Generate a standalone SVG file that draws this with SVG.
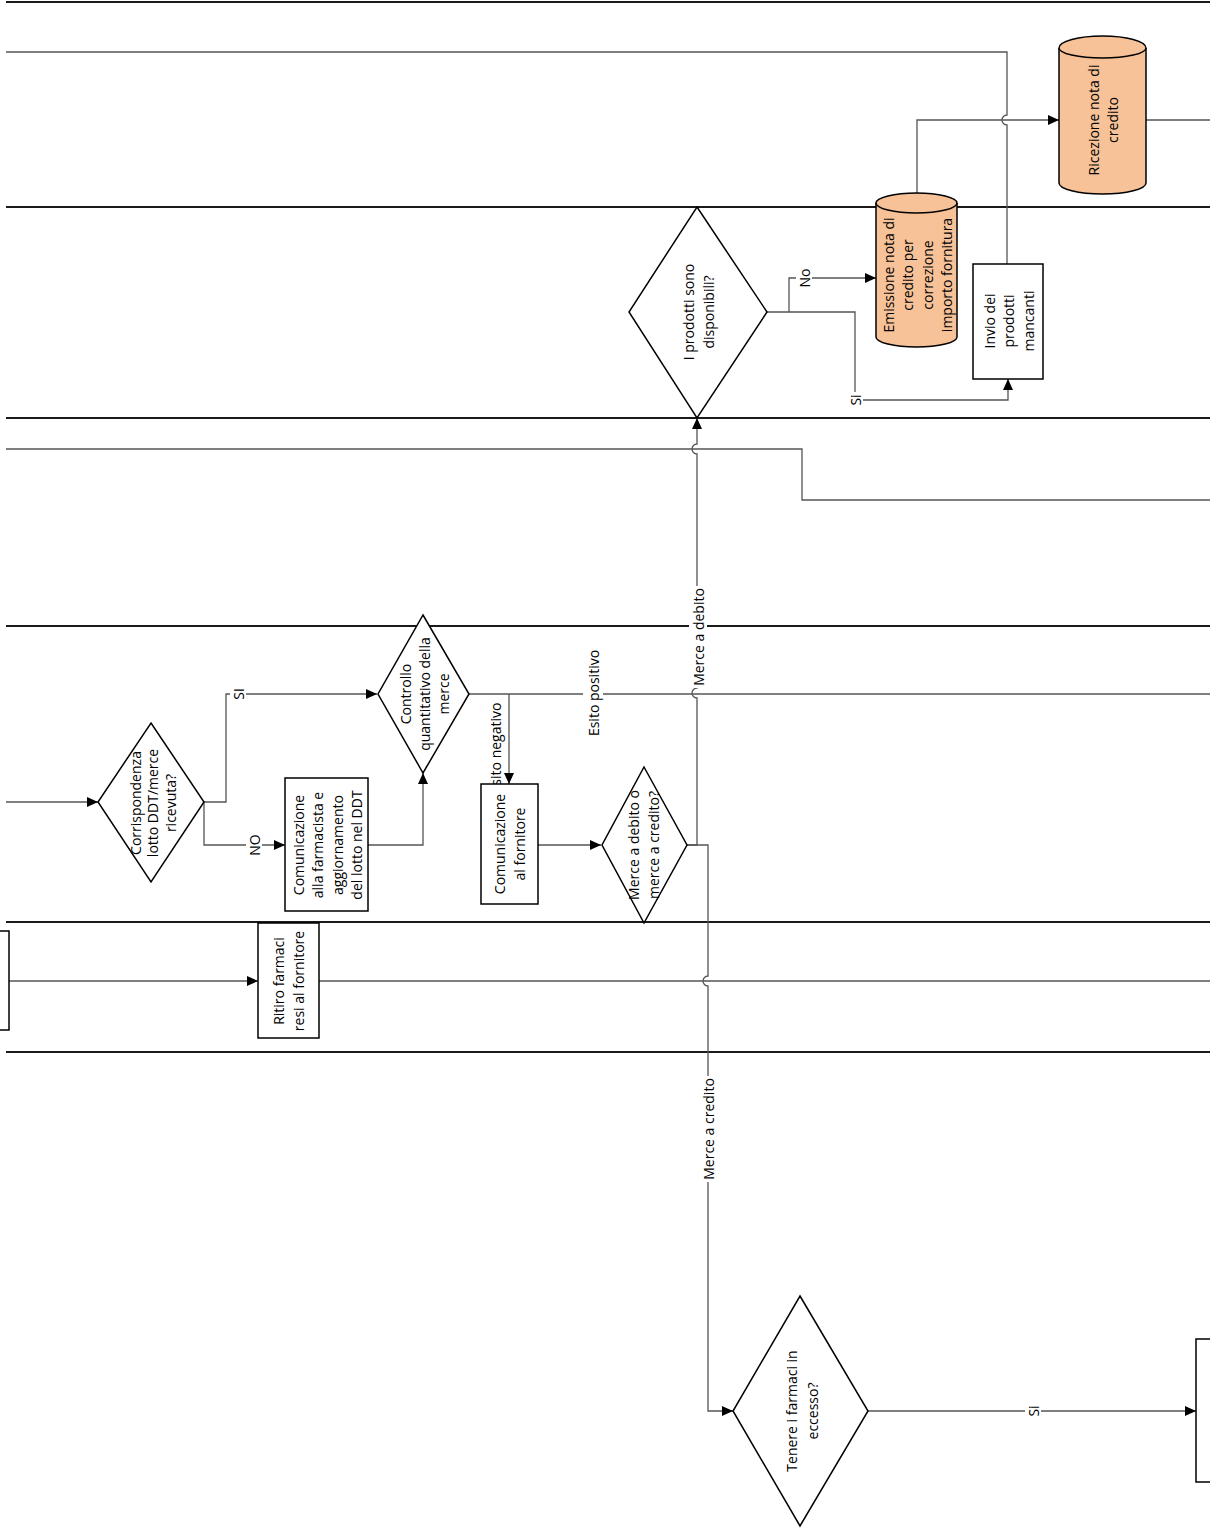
<svg xmlns="http://www.w3.org/2000/svg" width="1210" height="1528" viewBox="0 0 1210 1528">
<defs>
<marker id="arr" markerUnits="userSpaceOnUse" markerWidth="12" markerHeight="10" refX="11" refY="5" orient="auto">
<path d="M0,0 L11,5 L0,10 Z" fill="#000"/>
</marker>
<style>
.lane{stroke:#1a1a1a;stroke-width:2;fill:none}
.sh{fill:#fff;stroke:#000;stroke-width:1.5}
.cyl{fill:#f7c298;stroke:#000;stroke-width:1.5}
.cn{fill:none;stroke:#555;stroke-width:1.3}
.ca{fill:none;stroke:#555;stroke-width:1.3;marker-end:url(#arr)}
.t{font-family:"Open Sans","Noto Sans",sans-serif;font-size:14px;fill:#000;text-anchor:middle;dominant-baseline:central}
.bg{fill:#fff;stroke:none}
</style>
</defs>
<rect width="1210" height="1528" fill="#fff"/>
<g id="lanes">
<line class="lane" x1="6" y1="2" x2="1210" y2="2"/>
<line class="lane" x1="6" y1="207" x2="1210" y2="207"/>
<line class="lane" x1="6" y1="418" x2="1210" y2="418"/>
<line class="lane" x1="6" y1="626" x2="1210" y2="626"/>
<line class="lane" x1="6" y1="922" x2="1210" y2="922"/>
<line class="lane" x1="6" y1="1052" x2="1210" y2="1052"/>
</g>
<g id="connectors">
<path class="cn" d="M6,52 H1007 V115 A5,5 0 0 0 1007,125 V264"/>
<path class="ca" d="M917,193 V120 H1059"/>
<path class="cn" d="M1146,120 H1210"/>
<path class="ca" d="M767,312 H789 V278 H876"/>
<path class="ca" d="M789,312 H855 V400 H1008 V379"/>
<path class="cn" d="M6,449 H802 V500 H1210"/>
<path class="cn" d="M469,694 H1210"/>
<path class="ca" d="M687,845 H697 V698 A5,5 0 0 1 697,688 V454 A5,5 0 0 1 697,444 V418"/>
<path class="ca" d="M687,845 H708 V976 A5,5 0 0 0 708,986 V1411 H733"/>
<path class="ca" d="M6,802 H98"/>
<path class="ca" d="M204,802 H226 V694 H377"/>
<path class="ca" d="M204,802 V845 H285"/>
<path class="ca" d="M368,845 H423 V773"/>
<path class="ca" d="M509,694 V784"/>
<path class="ca" d="M538,845 H601"/>
<path class="ca" d="M9,981 H258"/>
<path class="cn" d="M319,981 H1210"/>
<path class="ca" d="M868,1411 H1196"/>
<g id="edge-labels">
<rect class="bg" x="796" y="267" width="16" height="22"/>
<text class="t" transform="translate(804,278) rotate(-90)">No</text>
<rect class="bg" x="847" y="392" width="16" height="16"/>
<text class="t" transform="translate(855,400) rotate(-90)">Si</text>
<rect class="bg" x="230" y="686" width="16" height="16"/>
<text class="t" transform="translate(238,694) rotate(-90)">SI</text>
<rect class="bg" x="246" y="833" width="16" height="24"/>
<text class="t" transform="translate(254,845) rotate(-90)">NO</text>
<rect class="bg" x="583" y="646" width="20" height="94"/>
<text class="t" transform="translate(593,693) rotate(-90)">Esito positivo</text>
<text class="t" transform="translate(495,748) rotate(-90)">Esito negativo</text>
<rect class="bg" x="689" y="586" width="18" height="102"/>
<text class="t" transform="translate(698,637) rotate(-90)">Merce a debito</text>
<rect class="bg" x="699" y="1076" width="18" height="106"/>
<text class="t" transform="translate(708,1129) rotate(-90)">Merce a credito</text>
<rect class="bg" x="1025" y="1403" width="16" height="16"/>
<text class="t" transform="translate(1033,1411) rotate(-90)">Si</text>
</g>
</g>
<g id="n-ricezione">
<path class="cyl" d="M1059,48 A43.5,12 0 0 1 1146,48 V183 A43.5,11 0 0 1 1059,183 Z"/>
<path class="cyl" fill="none" d="M1059,48 A43.5,10 0 0 0 1146,48"/>
<text class="t" transform="translate(1102,120) rotate(-90)"><tspan x="0" y="-9.5">Ricezione nota di</tspan><tspan x="0" y="9.5">credito</tspan></text>
</g>
<g id="n-emissione">
<path class="cyl" d="M876,203 A40.5,10 0 0 1 957,203 V337 A40.5,10 0 0 1 876,337 Z"/>
<path class="cyl" d="M876,203 A40.5,10 0 0 0 957,203"/>
<text class="t" transform="translate(917,275) rotate(-90)"><tspan x="0" y="-29">Emissione nota di</tspan><tspan x="0" y="-9.7">credito per</tspan><tspan x="0" y="9.7">correzione</tspan><tspan x="0" y="29">importo fornitura</tspan></text>
</g>
<g id="n-invio">
<rect class="sh" x="973" y="264" width="70" height="115"/>
<text class="t" transform="translate(1008,321) rotate(-90)"><tspan x="0" y="-19.5">Invio dei</tspan><tspan x="0" y="0">prodotti</tspan><tspan x="0" y="19.5">mancanti</tspan></text>
</g>
<g id="n-disponibili">
<path class="sh" d="M697,207 L767,312 L697,418 L629,312 Z"/>
<text class="t" transform="translate(698,312) rotate(-90)"><tspan x="0" y="-10">I prodotti sono</tspan><tspan x="0" y="10">disponibili?</tspan></text>
</g>
<g id="n-corrispondenza">
<path class="sh" d="M151,723 L204,802 L151,882 L98,802 Z"/>
<text class="t" transform="translate(152,803) rotate(-90)"><tspan x="0" y="-17.5">Corrispondenza</tspan><tspan x="0" y="0">lotto DDT/merce</tspan><tspan x="0" y="17.5">ricevuta?</tspan></text>
</g>
<g id="n-comunicazione-farmacista">
<rect class="sh" x="285" y="778" width="83" height="133"/>
<text class="t" transform="translate(327,845) rotate(-90)"><tspan x="0" y="-29">Comunicazione</tspan><tspan x="0" y="-9.7">alla farmacista e</tspan><tspan x="0" y="9.7">aggiornamento</tspan><tspan x="0" y="29">del lotto nel DDT</tspan></text>
</g>
<g id="n-controllo">
<path class="sh" d="M423,615 L469,694 L423,773 L378,694 Z"/>
<text class="t" transform="translate(424,694) rotate(-90)"><tspan x="0" y="-19">Controllo</tspan><tspan x="0" y="0">quantitativo della</tspan><tspan x="0" y="19">merce</tspan></text>
</g>
<g id="n-comunicazione-fornitore">
<rect class="sh" x="481" y="784" width="57" height="120"/>
<text class="t" transform="translate(509,844) rotate(-90)"><tspan x="0" y="-10">Comunicazione</tspan><tspan x="0" y="10">al fornitore</tspan></text>
</g>
<g id="n-debito-credito">
<path class="sh" d="M644,767 L687,845 L644,923 L602,845 Z"/>
<text class="t" transform="translate(643,845) rotate(-90)"><tspan x="0" y="-10">Merce a debito o</tspan><tspan x="0" y="10">merce a credito?</tspan></text>
</g>
<g id="n-left-box">
<rect class="sh" x="-20" y="931" width="29" height="99"/>
</g>
<g id="n-ritiro">
<rect class="sh" x="258" y="923" width="61" height="115"/>
<text class="t" transform="translate(288,981) rotate(-90)"><tspan x="0" y="-10">Ritiro farmaci</tspan><tspan x="0" y="10">resi al fornitore</tspan></text>
</g>
<g id="n-tenere">
<path class="sh" d="M800,1296 L868,1411 L800,1526 L733,1411 Z"/>
<text class="t" transform="translate(801,1411) rotate(-90)"><tspan x="0" y="-10.5">Tenere i farmaci in</tspan><tspan x="0" y="10.5">eccesso?</tspan></text>
</g>
<g id="n-right-box">
<rect class="sh" x="1196" y="1339" width="40" height="143"/>
</g>
</svg>
